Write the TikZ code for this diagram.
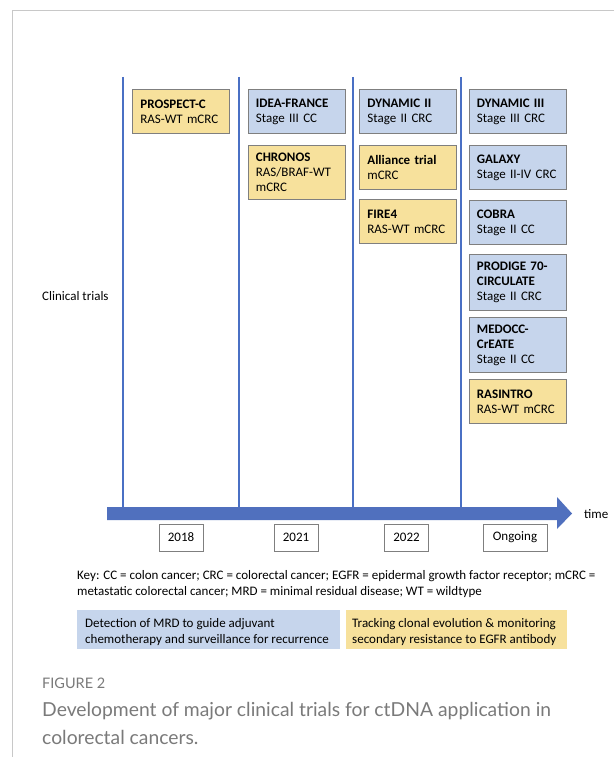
\documentclass[tikz,border=0pt]{standalone}
\usepackage{fontspec}
\setmainfont{Carlito}
\newfontfamily\capfont{Lato}
\definecolor{lineblue}{HTML}{4A70C4}
\definecolor{arrowblue}{HTML}{5070BE}
\definecolor{bluefill}{HTML}{C6D5EC}
\definecolor{ylwfill}{HTML}{F7E19C}
\definecolor{boxgray}{HTML}{7F7F7F}
\definecolor{framegray}{HTML}{C8C8C8}
\definecolor{capgray}{HTML}{7A7A7A}
\begin{document}
\begin{tikzpicture}[x=1pt,y=-1pt,
  trial/.style={draw=boxgray, line width=0.8pt, text width=81pt, align=left,
    inner xsep=8pt, inner ysep=0pt, anchor=north west,
    font=\fontsize{13}{15}\selectfont},
  bluetrial/.style={trial, fill=bluefill},
  ylwtrial/.style={trial, fill=ylwfill},
  yearbox/.style={draw=boxgray, line width=0.8pt, minimum height=27pt, inner sep=0pt,
    font=\fontsize{13}{15}\selectfont},
  vline/.style={draw=lineblue, line width=2pt},
  plain/.style={inner sep=0pt, font=\fontsize{13}{16}\selectfont},
  legbox/.style={inner sep=0pt, anchor=north west, minimum height=39pt},
  captxt/.style={inner sep=0pt, anchor=base west, text=capgray}
]
\useasboundingbox (0,0) rectangle (614,757);
\fill[white] (0,0) rectangle (614,757);
% frame
\draw[framegray, line width=1pt] (614,11) -- (12,11) -- (12,757);

% vertical lines
\coordinate (t1) at (122.5,77); \coordinate (b1) at (122.5,507);
\coordinate (t2) at (239,77);   \coordinate (b2) at (239,507);
\coordinate (t3) at (352.5,77); \coordinate (b3) at (352.5,507);
\coordinate (t4) at (461,77);   \coordinate (b4) at (461,507);
\draw[vline] (t1) -- (b1);
\draw[vline] (t2) -- (b2);
\draw[vline] (t3) -- (b3);
\draw[vline] (t4) -- (b4);

% time arrow
\fill[arrowblue] (107,507) -- (557,507) -- (557,497) -- (572,513.5) -- (557,529) -- (557,520) -- (107,520) -- cycle;
\node[plain, anchor=west] (time) at (584,514) {time};

% years
\node[yearbox, minimum width=44pt] (y2018) at (181,537.5) {2018};
\node[yearbox, minimum width=44pt] (y2021) at (296,537.5) {2021};
\node[yearbox, minimum width=44pt] (y2022) at (406.5,537.5) {2022};
\node[yearbox, minimum width=64pt] (yongo) at (515,537.5) {Ongoing};

% clinical trials label
\node[plain, anchor=west] (ct) at (42,296) {Clinical trials};

% 2018
\node[ylwtrial, minimum height=44pt] (prospect) at (132,89) {\textbf{PROSPECT-C}\\RAS-WT mCRC};
% 2021
\node[bluetrial, minimum height=44pt] (idea) at (247.5,89) {\textbf{IDEA-FRANCE}\\Stage III CC};
\node[ylwtrial, minimum height=54pt] (chronos) at (247.5,145) {\textbf{CHRONOS}\\RAS/BRAF-WT\\mCRC};
% 2022
\node[bluetrial, minimum height=44pt] (dyn2) at (359,89) {\textbf{DYNAMIC II}\\Stage II CRC};
\node[ylwtrial, minimum height=44pt] (alliance) at (359,145) {\textbf{Alliance trial}\\mCRC};
\node[ylwtrial, minimum height=44pt] (fire4) at (359,199) {\textbf{FIRE4}\\RAS-WT mCRC};
% Ongoing
\node[bluetrial, minimum height=44pt] (dyn3) at (468.5,89) {\textbf{DYNAMIC III}\\Stage III CRC};
\node[bluetrial, minimum height=44pt] (galaxy) at (468.5,145) {\textbf{GALAXY}\\Stage II-IV CRC};
\node[bluetrial, minimum height=44pt] (cobra) at (468.5,200) {\textbf{COBRA}\\Stage II CC};
\node[bluetrial, minimum height=56pt] (prodige) at (468.5,254) {\textbf{PRODIGE 70-}\\\textbf{CIRCULATE}\\Stage II CRC};
\node[bluetrial, minimum height=55pt] (medocc) at (468.5,317) {\textbf{MEDOCC-}\\\textbf{CrEATE}\\Stage II CC};
\node[ylwtrial, minimum height=44pt] (rasintro) at (468.5,379) {\textbf{RASINTRO}\\RAS-WT mCRC};

% key
\node[plain, anchor=base west] (key1) at (77,579.5) {Key: CC = colon cancer; CRC = colorectal cancer; EGFR = epidermal growth factor receptor; mCRC =};
\node[plain, anchor=base west] (key2) at (77,595) {metastatic colorectal cancer; MRD = minimal residual disease; WT = wildtype};

% legend
\node[legbox, fill=bluefill, minimum width=263pt] (legblue) at (77,610) {};
\node[legbox, fill=ylwfill, minimum width=221pt] (legylw) at (345.5,610) {};
\node[plain, anchor=base west] (lb1) at (85,627) {Detection of MRD to guide adjuvant};
\node[plain, anchor=base west] (lb2) at (85,643) {chemotherapy and surveillance for recurrence};
\node[plain, anchor=base west] (ly1) at (352,627) {Tracking clonal evolution \& monitoring};
\node[plain, anchor=base west] (ly2) at (352,643) {secondary resistance to EGFR antibody};

% caption
\node[captxt, font=\capfont\fontsize{14.5}{16}\selectfont] (fig) at (42,688) {FIGURE 2};
\node[captxt, font=\capfont\fontsize{19.3}{24}\selectfont] (cap1) at (42,716) {Development of major clinical trials for ctDNA application in};
\node[captxt, font=\capfont\fontsize{19.3}{24}\selectfont] (cap2) at (42,744) {colorectal cancers.};
\end{tikzpicture}
\end{document}
